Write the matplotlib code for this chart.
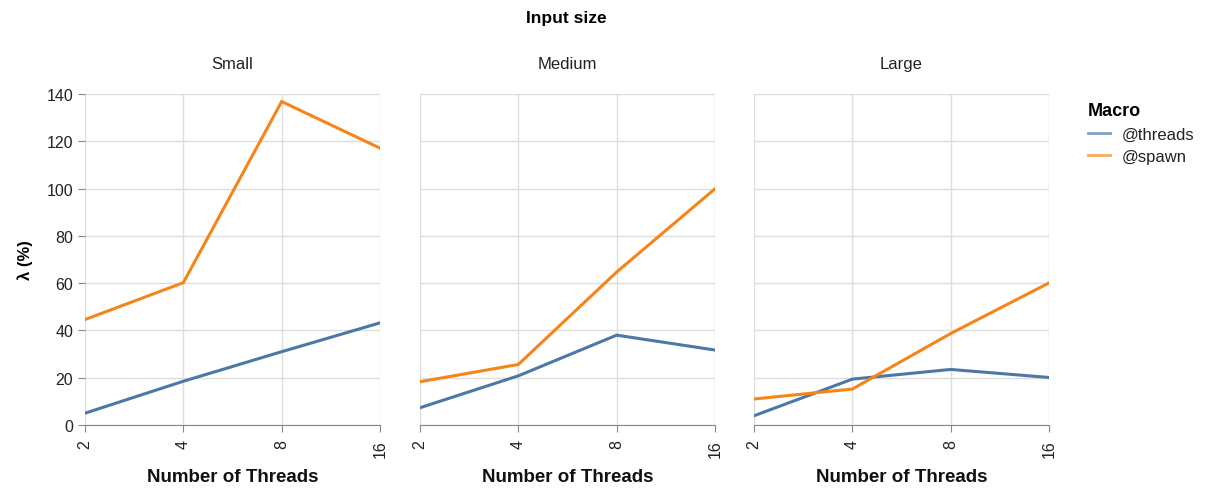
import matplotlib.pyplot as plt

plt.rcParams['font.family'] = ['Liberation Sans', 'DejaVu Sans']

threads = ["2", "4", "8", "16"]
sizes = ["Small", "Medium", "Large"]
macros = ["@threads", "@spawn"]
colors = ["#4c78a8", "#f58518"]

# lambda (%) per input size, per macro
threads_vals = {
    "Small": [5.0, 18.5, 31.0, 43.2],
    "Medium": [7.3, 20.8, 38.0, 31.7],
    "Large": [3.9, 19.4, 23.5, 20.1],
}
spawn_vals = {
    "Small": [44.6, 60.2, 136.8, 117.1],
    "Medium": [18.3, 25.6, 64.7, 99.9],
    "Large": [11.0, 15.2, 38.7, 60.1],
}

fig = plt.figure(figsize=(12.1, 4.89), dpi=100)
lefts = [85, 420, 754]
W, H = 1210, 489
axes = []
for i, size in enumerate(sizes):
    ax = fig.add_axes([lefts[i] / W, 1 - 426 / H, 295 / W, 331 / H])
    axes.append(ax)
    x = range(len(threads))
    for vals, c, lab in zip([threads_vals, spawn_vals], colors, macros):
        ax.plot(x, vals[size], color=c, lw=2.2, label=lab, zorder=3,
                solid_joinstyle='miter')
    ax.set_xlim(0, len(threads) - 1)
    ax.set_ylim(0, 140)
    ax.set_xticks(list(x))
    ax.set_xticklabels(threads, rotation=90, fontsize=11.5, color='#222')
    ax.set_yticks(range(0, 141, 20))
    ax.grid(True, color='#dddddd', lw=1)
    ax.set_axisbelow(True)
    for s in ['top', 'right', 'left']:
        ax.spines[s].set_visible(False)
    ax.spines['bottom'].set_color('#888888')
    ax.tick_params(axis='x', length=5, color='#888888', pad=5)
    ax.set_title(size, fontsize=12, pad=19, color='#222')
    ax.set_xlabel("Number of Threads", fontsize=13.5, fontweight='bold',
                  labelpad=8, color='#111')
    if i == 0:
        ax.spines['left'].set_color('#888888')
        ax.tick_params(axis='y', length=5, color='#888888', labelsize=11.5,
                       labelcolor='#222')
        ax.set_ylabel("λ (%)", fontsize=12, fontweight='bold', labelpad=10)
    else:
        ax.tick_params(axis='y', length=0, labelleft=False)

fig.text(566 / W, 1 - 18 / H, "Input size", ha='center', va='center',
         fontsize=12.5, fontweight='bold')

handles, labels = axes[0].get_legend_handles_labels()
leg = fig.legend(handles, labels, title="Macro", loc='upper left',
                 bbox_to_anchor=(1073 / W, 1 - 88 / H), frameon=False,
                 fontsize=12, title_fontproperties={'weight': 'bold', 'size': 13},
                 handlelength=1.3, handletextpad=0.7, labelspacing=0.45,
                 alignment='left')
for h in leg.get_lines():
    h.set_linewidth(2)
    h.set_alpha(0.7)
for t in leg.get_texts():
    t.set_color('#222')

fig.savefig("out.png", dpi=100)
